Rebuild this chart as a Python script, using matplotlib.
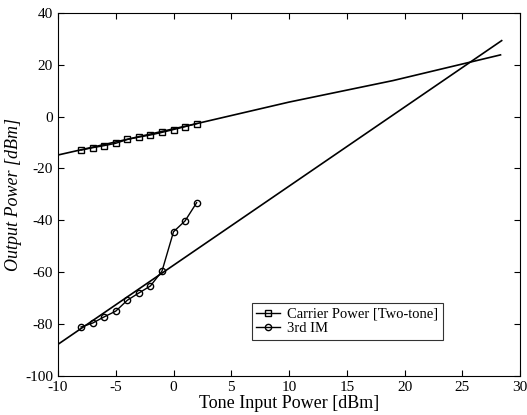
import matplotlib
matplotlib.use("Agg")
import matplotlib.pyplot as plt

# Data
input_power = [-8, -7, -6, -5, -4, -3, -2, -1, 0, 1, 2]
carrier_power = [-12.9, -12.0, -11.2, -10.3, -8.8, -7.9, -7.1, -6.1, -5.0, -3.9, -2.7]
im3_power = [-81.1, -79.6, -77.2, -75.0, -70.8, -68.0, -65.3, -59.6, -44.4, -40.2, -33.2]

carrier_fit_x = [-10, 2, 10, 19, 28.3]
carrier_fit_y = [-14.8, -2.7, 5.6, 13.9, 23.8]
im3_fit_x = [-10, 28.4]
im3_fit_y = [-87.8, 29.3]

xticks = [-10, -5, 0, 5, 10, 15, 20, 25, 30]
yticks = [-100, -80, -60, -40, -20, 0, 20, 40]

plt.rcParams['font.family'] = ['Liberation Serif', 'DejaVu Serif']
plt.rcParams['axes.unicode_minus'] = False

fig = plt.figure(figsize=(5.27, 4.15), dpi=100)
ax = fig.add_axes([0.110, 0.094, 0.877, 0.875])

ax.plot(carrier_fit_x, carrier_fit_y, color='black', lw=1.2)
ax.plot(im3_fit_x, im3_fit_y, color='black', lw=1.2)
ax.plot(input_power, carrier_power, '-s', color='black', lw=1.0, ms=4.5,
        mfc='none', mew=1.0, label='Carrier Power [Two-tone]')
ax.plot(input_power, im3_power, '-o', color='black', lw=1.0, ms=4.5,
        mfc='none', mew=1.0, label='3rd IM')

ax.set_xlim(-10, 30)
ax.set_ylim(-100, 40)
ax.set_xticks(xticks)
ax.set_yticks(yticks)
ax.tick_params(direction='in', top=True, right=True, labelsize=11, length=4)
ax.set_xlabel('Tone Input Power [dBm]', fontsize=13, labelpad=1)
ax.set_ylabel('Output Power [dBm]', fontsize=13, style='italic', labelpad=2)

leg = ax.legend(loc='lower left', bbox_to_anchor=(0.42, 0.10), fontsize=10.5,
                handlelength=1.6, frameon=True, fancybox=False, edgecolor='black',
                borderpad=0.3, labelspacing=0.1, handletextpad=0.5, borderaxespad=0)
leg.get_frame().set_linewidth(0.8)

fig.savefig('out.png', dpi=100)
